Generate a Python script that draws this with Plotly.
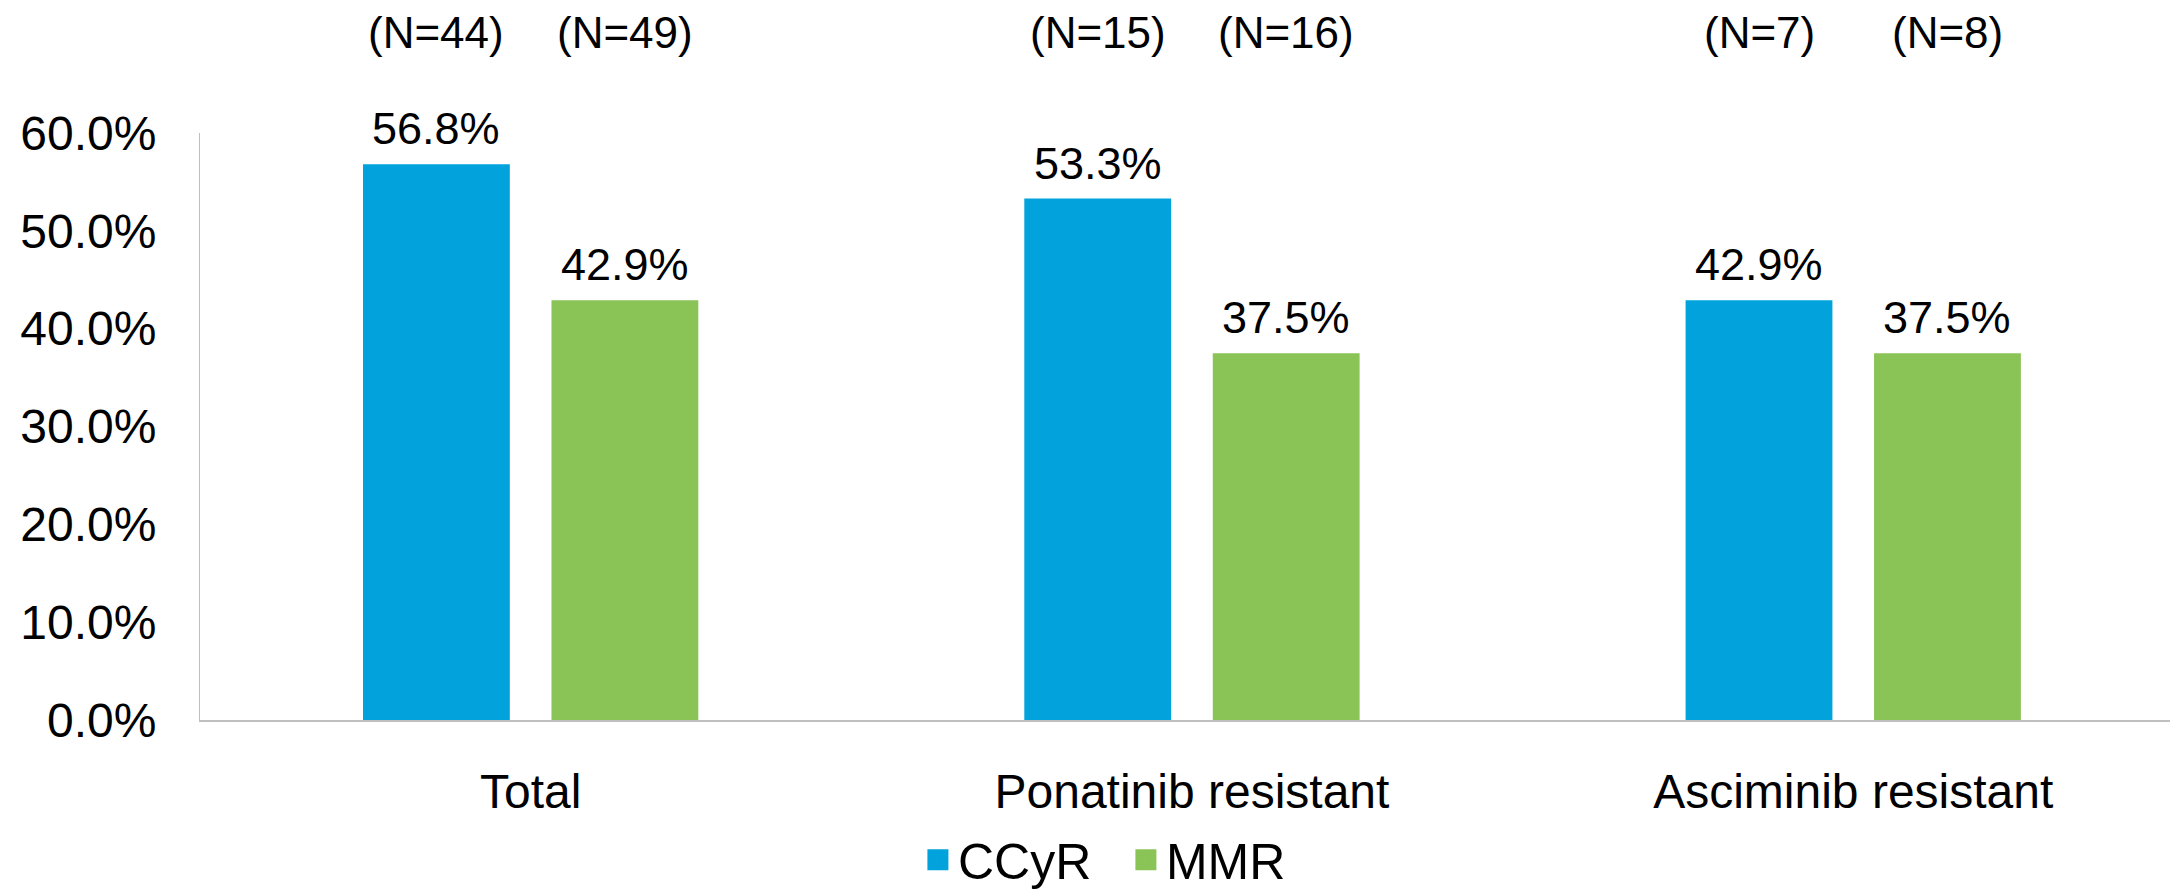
import plotly.graph_objects as go

# Response rates by resistance subgroup
categories = ["Total", "Ponatinib resistant", "Asciminib resistant"]
ccyr_pct = [56.8, 53.3, 42.9]
mmr_pct = [42.9, 37.5, 37.5]
ccyr_n = [44, 15, 7]
mmr_n = [49, 16, 8]
y_ticks = [0, 10, 20, 30, 40, 50, 60]

BLUE = "#02A3DC"
GREEN = "#8AC356"
AXIS_GREY = "#BFBFBF"
FONT = "Liberation Sans, Arial, sans-serif"

fig = go.Figure()
fig.add_bar(x=categories, y=ccyr_pct, name="CCyR",
            marker=dict(color=BLUE, line_width=0), showlegend=False)
fig.add_bar(x=categories, y=mmr_pct, name="MMR",
            marker=dict(color=GREEN, line_width=0), showlegend=False)

# Larger square swatches for the legend
for name, color in [("CCyR", BLUE), ("MMR", GREEN)]:
    fig.add_scatter(x=[None], y=[None], mode="markers", name=name,
                    marker=dict(symbol="square", size=16, color=color,
                                line=dict(color=color, width=5)))

# Offset of each bar centre from its category centre (category units)
HALF = 0.1425
for i in range(len(categories)):
    for vals, ns, dx in [(ccyr_pct, ccyr_n, -HALF), (mmr_pct, mmr_n, HALF)]:
        fig.add_annotation(x=i + dx, y=vals[i], text=f"{vals[i]:.1f}%",
                           yanchor="bottom", yshift=8, showarrow=False,
                           font=dict(size=45, color="black", family=FONT))
        fig.add_annotation(x=i + dx, xref="x", y=1.172, yref="paper",
                           text=f"(N={ns[i]})", yanchor="middle",
                           showarrow=False,
                           font=dict(size=44, color="black", family=FONT))

fig.update_layout(
    width=2170, height=891,
    margin=dict(l=200, r=0, t=133, b=171),
    paper_bgcolor="white", plot_bgcolor="white",
    font=dict(family=FONT, color="black"),
    barmode="group", bargap=0.43, bargroupgap=0.221,
    legend=dict(orientation="h", xref="container", yref="container",
                x=0.423, y=0.035, xanchor="left", yanchor="middle",
                font=dict(size=50), itemwidth=30, tracegroupgap=0,
                entrywidth=163, entrywidthmode="pixels"),
)
fig.update_xaxes(range=[-0.5, 2.479], showline=True, linecolor=AXIS_GREY,
                 linewidth=2, ticks="", showgrid=False, zeroline=False,
                 tickfont=dict(size=48), ticklabelstandoff=28)
fig.update_yaxes(range=[0, 60], tickvals=y_ticks,
                 ticktext=[f"{v:.1f}%" for v in y_ticks],
                 showline=True, linecolor=AXIS_GREY, linewidth=1,
                 ticks="", showgrid=False, zeroline=False,
                 tickfont=dict(size=48), ticklabelstandoff=33)

fig.write_html("out.html")
